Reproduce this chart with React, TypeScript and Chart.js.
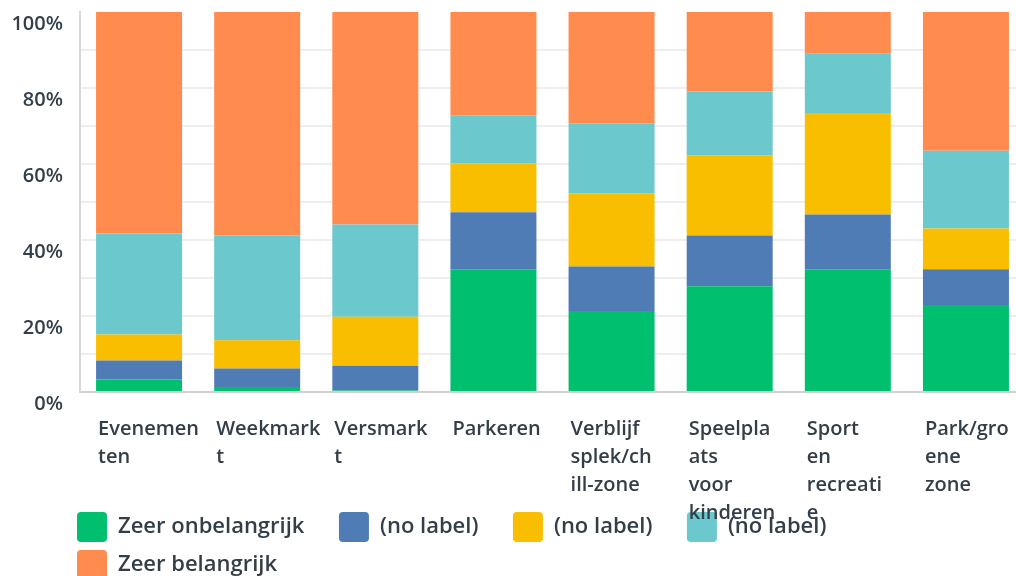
import React, { useEffect, useRef } from "react";
import { Chart, registerables } from "chart.js";

Chart.register(...registerables);

const categories: string[][] = [
  ["Evenemen", "ten"],
  ["Weekmark", "t"],
  ["Versmark", "t"],
  ["Parkeren"],
  ["Verblijf", "splek/ch", "ill-zone"],
  ["Speelpla", "ats", "voor", "kinderen"],
  ["Sport", "en", "recreati", "e"],
  ["Park/gro", "ene", "zone"],
];

const seriesNames = ["Zeer onbelangrijk", "(no label)", "(no label)", "(no label)", "Zeer belangrijk"];
const seriesColors = ["#00bf6f", "#507cb6", "#f9be00", "#6bc8cd", "#ff8b4f"];

const zeerOnbelangrijk = [3.3, 1.3, 0.4, 32.3, 21.3, 27.8, 32.3, 22.9];
const noLabelA = [5.0, 4.9, 6.5, 15.0, 11.7, 13.4, 14.4, 9.4];
const noLabelB = [6.8, 7.4, 12.9, 12.9, 19.3, 21.1, 26.7, 10.7];
const noLabelC = [26.6, 27.6, 24.3, 12.6, 18.4, 16.8, 15.6, 20.5];
const zeerBelangrijk = [58.3, 58.8, 55.9, 27.2, 29.3, 20.9, 11.0, 36.5];

const yTicks = [0, 20, 40, 60, 80, 100];

const TEXT = "#333e48";
const FONT = "'Open Sans', sans-serif";

const legendShift = {
  id: "legendShift",
  afterLayout(chart: any) {
    const lg = chart.legend;
    if (lg) {
      lg.left += 69;
      lg.top += 14;
      lg.bottom += 14;
    }
    const x = chart.scales.x;
    if (x) {
      x.bottom = chart.height;
      x.height = x.bottom - x.top;
    }
  },
};

export default function App() {
  const ref = useRef<HTMLCanvasElement | null>(null);
  useEffect(() => {
    if (!ref.current) return;
    const series = [zeerOnbelangrijk, noLabelA, noLabelB, noLabelC, zeerBelangrijk];
    const chart = new Chart(ref.current, {
      type: "bar",
      data: {
        labels: categories,
        datasets: series.map((d, i) => ({
          label: seriesNames[i],
          data: d,
          backgroundColor: seriesColors[i],
          borderWidth: 0,
          barPercentage: 0.728,
          categoryPercentage: 1,
        })),
      },
      options: {
        animation: false,
        responsive: false,
        devicePixelRatio: 1,
        layout: { padding: { top: 12, left: 0, right: 0, bottom: 0 } },
        plugins: {
          tooltip: { enabled: false },
          legend: {
            position: "bottom",
            align: "start",
            labels: {
              boxWidth: 30,
              boxHeight: 30,
              padding: 8,
              useBorderRadius: true,
              borderRadius: 4,
              color: TEXT,
              font: { family: FONT, size: 22, weight: "600" },
              generateLabels: (c: any) => {
                const items = Chart.defaults.plugins.legend.labels.generateLabels(c);
                return items.map((it: any, i: number) => ({
                  ...it,
                  text: it.text + (i === items.length - 1 ? " ".repeat(30) : "    \u2009"),
                  lineWidth: 0,
                  strokeStyle: "transparent",
                }));
              },
            },
          },
        },
        scales: {
          x: {
            stacked: true,
            grid: { display: false, drawTicks: false },
            border: { display: true, color: "#d0d0d0", width: 2 },
            ticks: {
              align: "start",
              labelOffset: -41,
              padding: 23,
              maxRotation: 0,
              autoSkip: false,
              color: TEXT,
              font: { family: FONT, size: 20, weight: "600", lineHeight: 1.4 },
            },
            afterFit: (s: any) => {
              s.height = 98;
              s.paddingLeft = 0;
              s.paddingRight = 0;
            },
          },
          y: {
            stacked: true,
            min: 0,
            max: 100,
            grid: {
              drawTicks: false,
              lineWidth: 2,
              color: (ctx: any) =>
                ctx.tick && (ctx.tick.value === 0 || ctx.tick.value === 100) ? "rgba(0,0,0,0)" : "#eeeeee",
            },
            border: { display: true, color: "#d8d8d8", width: 2 },
            ticks: {
              stepSize: 10,
              padding: 17,
              labelOffset: 12,
              color: TEXT,
              font: { family: FONT, size: 20, weight: "600" },
              callback: (v: any) => (yTicks.includes(Number(v)) ? v + "%" : ""),
            },
            afterFit: (s: any) => {
              s.width = 80;
              s.paddingTop = 0;
              s.paddingBottom = 0;
            },
          },
        },
      },
      plugins: [legendShift],
    });
    return () => chart.destroy();
  }, []);
  return (
    <div style={{ position: "fixed", left: 0, top: 0, width: 1016, height: 576, overflow: "hidden", background: "#fff" }}>
      <canvas ref={ref} width={1025} height={576} style={{ width: 1025, height: 576, display: "block" }} />
    </div>
  );
}
